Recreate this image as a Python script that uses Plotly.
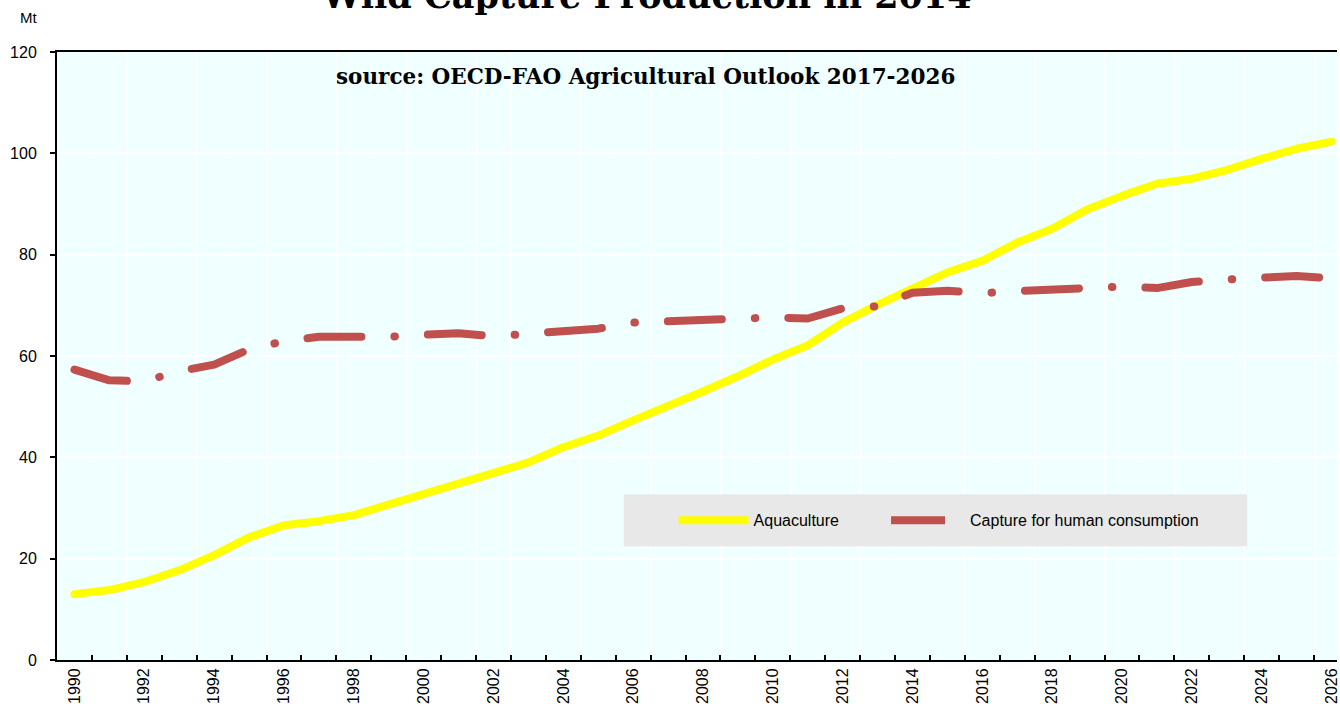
import plotly.graph_objects as go

years = list(range(1990, 2027))
aquaculture = [13.0, 13.8, 15.4, 17.7, 20.7, 24.2, 26.6, 27.4, 28.6, 30.7,
               32.5, 34.7, 36.8, 39.0, 42.0, 44.3, 47.3, 50.0, 53.0, 56.0,
               59.3, 62.1, 66.6, 70.1, 73.5, 76.5, 78.8, 82.4, 85.1, 88.9,
               91.6, 94.0, 95.0, 96.7, 98.9, 100.9, 102.3]
capture = [57.3, 55.2, 55.0, 57.0, 58.3, 61.3, 62.9, 63.8, 63.8, 63.8,
           64.2, 64.5, 63.9, 64.4, 64.8, 65.4, 66.6, 66.9, 67.2, 67.3,
           67.6, 67.4, 69.4, 69.8, 72.5, 72.9, 72.4, 72.8, 73.2, 73.5,
           73.7, 73.4, 74.6, 75.1, 75.4, 75.8, 75.3]
label_years = years[::2]
tick_labels = [str(y) for y in label_years]

W, H = 1340, 704
L, R, T, B = 57, 0, 52, 43
PW, PH = W - L - R, H - T - B


def px_x(x):
    return (x - L) / PW


def px_y(y):
    return (H - B - y) / PH


fig = go.Figure()
fig.add_trace(go.Scatter(x=years, y=aquaculture, mode="lines", name="Aquaculture",
                         legend="legend",
                         line=dict(color="#ffff00", width=8)))
fig.add_trace(go.Scatter(x=years, y=capture, mode="lines", name="Capture for human consumption",
                         legend="legend2",
                         line=dict(color="#c0504d", width=8, dash="54px,33px,0.5px,33px")))

fig.update_layout(
    width=W, height=H,
    margin=dict(l=L, r=R, t=T, b=B),
    paper_bgcolor="white",
    plot_bgcolor="#f0ffff",
    font=dict(family="Liberation Sans, Arial, sans-serif", size=16, color="#000000"),
    showlegend=True,
    legend=dict(x=px_x(675), y=px_y(521), xanchor="left", yanchor="middle",
                bgcolor="rgba(0,0,0,0)", font=dict(size=16), itemwidth=70),
    legend2=dict(x=px_x(888), y=px_y(521), xanchor="left", yanchor="middle",
                 bgcolor="rgba(0,0,0,0)", font=dict(size=16), itemwidth=74),
)
fig.update_xaxes(
    range=[1989.5, 1989.5 + PW / 35.0],
    tickmode="array", tickvals=label_years, ticktext=tick_labels, tickangle=-90,
    ticklabeloverflow="allow",
    ticks="", showgrid=False, zeroline=False,
    showline=True, linecolor="black", linewidth=2, mirror=True,
    minor=dict(tickmode="array", tickvals=[y + 0.5 for y in years[:-1]],
               ticks="inside", ticklen=5, tickcolor="black", tickwidth=1.5,
               showgrid=True, gridcolor="white", gridwidth=1),
    tickfont=dict(size=16),
)
fig.update_yaxes(
    range=[0, 120], dtick=20, tick0=0,
    ticks="outside", ticklen=5, tickcolor="black", tickwidth=1.5,
    ticklabelstandoff=10,
    showgrid=True, gridcolor="white", gridwidth=1.5, zeroline=False,
    showline=True, linecolor="black", linewidth=2,
    tickfont=dict(size=16),
)

# legend background box
fig.add_shape(type="rect", xref="paper", yref="paper",
              x0=px_x(625), x1=px_x(1250), y0=px_y(547), y1=px_y(495),
              fillcolor="#e8e8e8", line=dict(width=0), layer="above")

fig.add_annotation(text="<b>Wild Capture Production in 2014</b>", xref="paper", yref="paper",
                   x=px_x(648), y=px_y(18), xanchor="center", yanchor="bottom", showarrow=False,
                   font=dict(family="DejaVu Serif, serif", size=35, color="black"))
fig.add_annotation(text="<b>source: OECD-FAO Agricultural Outlook 2017-2026</b>", xref="paper", yref="paper",
                   x=px_x(647), y=px_y(77), xanchor="center", yanchor="middle", showarrow=False,
                   font=dict(family="DejaVu Serif, serif", size=21.5, color="black"))
fig.add_annotation(text="Mt", xref="paper", yref="paper",
                   x=px_x(28), y=px_y(17), xanchor="center", yanchor="middle", showarrow=False,
                   font=dict(size=15, color="black"))

post = """
document.body.style.margin='0px';
var gd = document.getElementById('{plot_id}');
function roundCaps() {
  gd.querySelectorAll('.scatterlayer .js-line').forEach(function(p) {
    p.style.strokeLinecap = 'round';
    p.style.strokeLinejoin = 'round';
  });
}
roundCaps();
if (gd.on) { gd.on('plotly_afterplot', roundCaps); }
setTimeout(roundCaps, 0);
"""

fig.write_html("out.html", config={"displayModeBar": False}, post_script=post)
